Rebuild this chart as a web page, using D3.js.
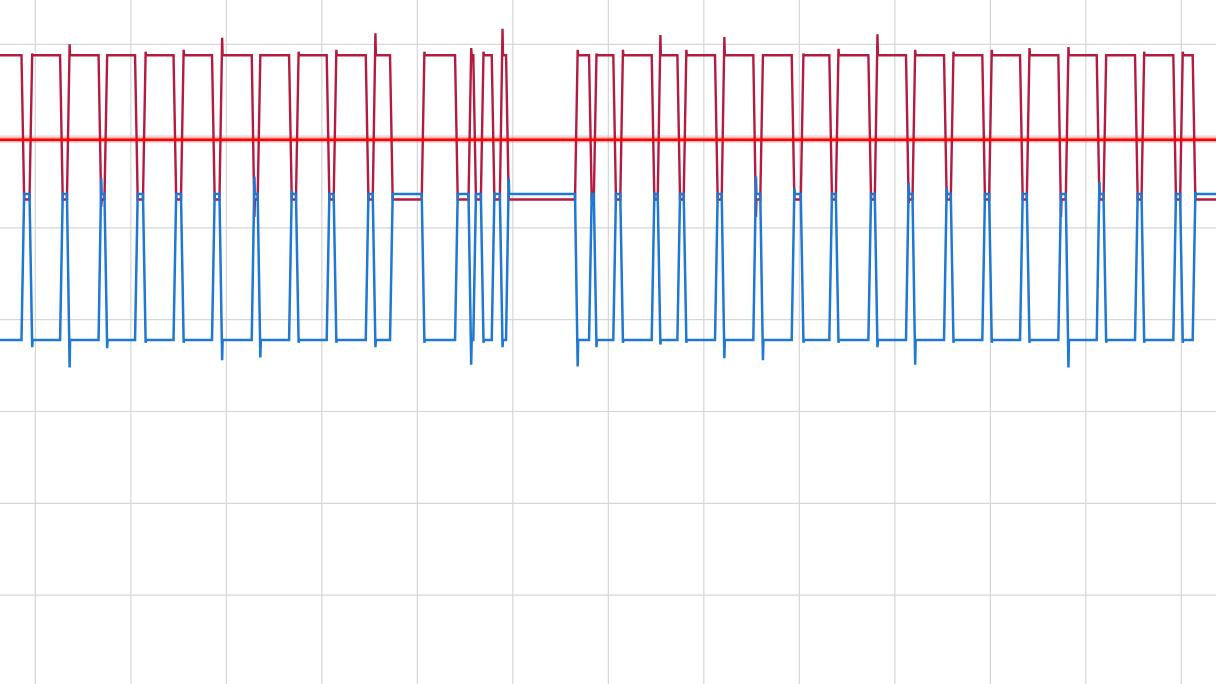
<!DOCTYPE html>
<html>
<head>
<meta charset="utf-8">
<script src="https://cdn.jsdelivr.net/npm/d3@7"></script>
<style>
  html, body { margin: 0; padding: 0; background: #ffffff; }
  svg { display: block; }
</style>
</head>
<body>
<svg id="chart" width="1216" height="684"></svg>
<script>
// ---- Data (time in µs, level in V) ----
const timeTicks = [0, 10, 20, 30, 40, 50, 60, 70, 80, 90, 100, 110, 120];
const voltTicks = [0, 1, 2, 3, 4, 5, 6];
const threshold = 4.96;

// idle / resting levels
const crimsonHigh = 5.88, crimsonLow = 4.31;
const blueLow = 2.78, blueHigh = 4.37;

// start of each crimson falling edge (blue rising edge) and of each crimson rising edge
const fallT = [-1.45, 2.59, 6.62, 10.44, 14.47, 18.50, 22.66, 26.57, 30.51, 34.60, 37.14,
  43.95, 45.86, 47.79, 49.29, 57.98, 60.52, 64.54, 67.23, 71.17, 75.18, 79.20, 83.14,
  87.23, 91.17, 95.15, 99.16, 103.11, 107.12, 111.14, 115.15, 119.16, 121.19];
const riseT = [-0.61, 3.31, 7.24, 11.27, 15.25, 19.28, 23.28, 27.29, 31.24, 35.33, 40.46,
  45.36, 46.65, 48.64, 56.51, 58.48, 61.25, 65.17, 67.89, 71.87, 75.91, 80.15, 83.82,
  87.90, 91.85, 95.86, 99.87, 103.82, 107.90, 111.85, 115.83, 119.87, null];
// crimson peak right after its rising edge
const crimsonPeak = [5.90, 6.00, 5.88, 5.92, 5.94, 6.07, 5.88, 5.92, 5.94, 6.12, 5.92,
  5.96, 5.92, 6.17, 5.94, 5.90, 5.94, 6.10, 5.94, 6.08, 5.88, 5.90, 5.95,
  6.11, 5.94, 5.92, 5.94, 5.96, 5.97, 5.88, 5.92, 5.92, null];
// crimson dip right after its falling edge
const crimsonDip = [4.31, 4.31, 4.23, 4.31, 4.31, 4.31, 4.12, 4.31, 4.31, 4.31, 4.30,
  4.31, 4.31, 4.31, 4.30, 4.31, 4.31, 4.31, 4.31, 4.31, 4.12, 4.31, 4.31,
  4.31, 4.27, 4.31, 4.31, 4.31, 4.12, 4.31, 4.31, 4.31, 4.30];
// blue peak right after its rising edge
const bluePeak = [4.38, 4.38, 4.54, 4.38, 4.38, 4.38, 4.56, 4.41, 4.38, 4.38, 4.38,
  4.38, 4.38, 4.38, 4.54, 4.38, 4.38, 4.38, 4.38, 4.38, 4.56, 4.43, 4.38,
  4.38, 4.49, 4.44, 4.38, 4.38, 4.38, 4.50, 4.38, 4.38, 4.39];
// blue dip right after its falling edge
const blueDip = [2.70, 2.48, 2.69, 2.75, 2.75, 2.56, 2.59, 2.75, 2.75, 2.70, 2.75,
  2.51, 2.75, 2.70, 2.49, 2.70, 2.75, 2.73, 2.75, 2.58, 2.56, 2.75, 2.75,
  2.70, 2.51, 2.75, 2.75, 2.75, 2.48, 2.75, 2.75, 2.75, null];

// ---- Layout ----
const W = 1216, H = 684;
const x = d3.scaleLinear().domain([-3.7, 123.63]).range([0, W]);
const y = d3.scaleLinear().domain([-0.968, 6.4826]).range([H, 0]);
const EDGE = 0.28, SETTLE = 0.05;

function pushEdge(pts, t0, from, to, ext) {
  pts.push([t0, from]);
  pts.push([t0 + EDGE, ext]);
  if (ext !== to) pts.push([t0 + EDGE + SETTLE, to]);
}

function buildSeries(hi, lo, isCrimson) {
  const rest = isCrimson ? hi : lo;
  const active = isCrimson ? lo : hi;
  const pts = [[x.domain()[0], rest]];
  fallT.forEach((a, i) => {
    const b = riseT[i];
    pushEdge(pts, a, rest, active, isCrimson ? crimsonDip[i] : bluePeak[i]);
    if (b !== null) {
      pushEdge(pts, b, active, rest, isCrimson ? crimsonPeak[i] : blueDip[i]);
    } else {
      pts.push([x.domain()[1], active]);
    }
  });
  return pts;
}

const crimsonPts = buildSeries(crimsonHigh, crimsonLow, true);
const bluePts = buildSeries(blueHigh, blueLow, false);

const svg = d3.select('#chart');
svg.append('rect').attr('width', W).attr('height', H).attr('fill', '#ffffff');

// grid
const grid = svg.append('g').attr('class', 'grid');
grid.selectAll('line.v').data(timeTicks).join('line')
  .attr('class', 'v')
  .attr('x1', d => x(d)).attr('x2', d => x(d))
  .attr('y1', 0).attr('y2', H)
  .attr('stroke', '#d6d6d6').attr('stroke-width', 1.2);
grid.selectAll('line.h').data(voltTicks).join('line')
  .attr('class', 'h')
  .attr('y1', d => y(d)).attr('y2', d => y(d))
  .attr('x1', 0).attr('x2', W)
  .attr('stroke', '#d6d6d6').attr('stroke-width', 1.2);

const line = d3.line().x(d => x(d[0])).y(d => y(d[1]));

svg.append('path').datum(crimsonPts)
  .attr('d', line).attr('fill', 'none')
  .attr('stroke', '#b31b41').attr('stroke-width', 2.4)
  .attr('stroke-linejoin', 'miter').attr('stroke-miterlimit', 2);

svg.append('path').datum(bluePts)
  .attr('d', line).attr('fill', 'none')
  .attr('stroke', '#1f78d1').attr('stroke-width', 2.5)
  .attr('stroke-linejoin', 'miter').attr('stroke-miterlimit', 2);

// threshold line
svg.append('line')
  .attr('x1', 0).attr('x2', W)
  .attr('y1', y(threshold)).attr('y2', y(threshold))
  .attr('stroke', 'rgba(255,0,0,0.3)').attr('stroke-width', 5.5);
svg.append('line')
  .attr('x1', 0).attr('x2', W)
  .attr('y1', y(threshold)).attr('y2', y(threshold))
  .attr('stroke', '#ff0000').attr('stroke-width', 2.6);
</script>
</body>
</html>
